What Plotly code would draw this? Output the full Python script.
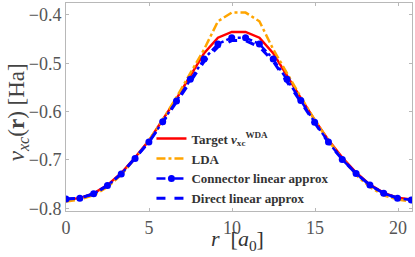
import plotly.graph_objects as go

r_vals = [0, 0.832, 1.664, 2.496, 3.328, 4.16, 4.992, 5.824, 6.656, 7.488, 8.32, 9.152, 9.984,
          10.816, 11.648, 12.48, 13.312, 14.144, 14.976, 15.808, 16.64, 17.472, 18.304, 19.136, 19.968, 20.8]

target = [-0.782, -0.779, -0.769, -0.752, -0.727, -0.695, -0.660, -0.617, -0.573, -0.526, -0.479, -0.447, -0.435,
          -0.435, -0.447, -0.479, -0.526, -0.572, -0.617, -0.659, -0.695, -0.726, -0.751, -0.768, -0.778, -0.782]

lda = [-0.786, -0.782, -0.773, -0.756, -0.731, -0.697, -0.660, -0.617, -0.570, -0.521, -0.471, -0.413, -0.395,
       -0.395, -0.413, -0.471, -0.521, -0.570, -0.617, -0.660, -0.697, -0.731, -0.756, -0.773, -0.782, -0.786]

connector = [-0.781, -0.779, -0.770, -0.753, -0.729, -0.697, -0.663, -0.621, -0.578, -0.533, -0.491, -0.460, -0.447,
             -0.447, -0.460, -0.491, -0.533, -0.577, -0.622, -0.663, -0.699, -0.728, -0.752, -0.769, -0.779, -0.783]

direct = [-0.781, -0.779, -0.770, -0.753, -0.729, -0.697, -0.663, -0.622, -0.580, -0.537, -0.496, -0.466, -0.453,
          -0.453, -0.466, -0.496, -0.537, -0.580, -0.623, -0.664, -0.699, -0.728, -0.752, -0.769, -0.779, -0.783]

x_ticks = [0, 5, 10, 15, 20]
y_ticks = [-0.8, -0.7, -0.6, -0.5, -0.4]
y_tick_labels = ["−0.8", "−0.7", "−0.6", "−0.5", "−0.4"]

SERIF = "Liberation Serif, DejaVu Serif, serif"

fig = go.Figure()
fig.add_trace(go.Scatter(x=r_vals, y=target, mode="lines",
                         name="<b>Target <i>v</i><sub>xc</sub><sup>WDA</sup></b>",
                         line=dict(color="#FF0000", width=2.5)))
fig.add_trace(go.Scatter(x=r_vals, y=lda, mode="lines", name="<b>LDA</b>",
                         line=dict(color="#FFA500", width=2.5, dash="dashdot")))
fig.add_trace(go.Scatter(x=r_vals, y=connector, mode="lines+markers", name="<b>Connector linear approx</b>",
                         line=dict(color="#0000FF", width=2.5, dash="dashdot"),
                         marker=dict(color="#0000FF", size=7, symbol="circle")))
fig.add_trace(go.Scatter(x=r_vals, y=direct, mode="lines", name="<b>Direct linear approx</b>",
                         line=dict(color="#0000FF", width=3, dash="dash")))

axis_common = dict(showgrid=False, zeroline=False, showline=True, linecolor="#b8b8b8", linewidth=1,
                   mirror="ticks", ticks="inside", ticklen=3, tickcolor="#b8b8b8", automargin=False,
                   tickfont=dict(family=SERIF, size=18, color="#555555"))

fig.update_layout(
    width=415, height=257,
    margin=dict(l=66, r=3, t=3, b=46),
    plot_bgcolor="white", paper_bgcolor="white",
    xaxis=dict(range=[0, 20.84], tickvals=x_ticks, ticktext=[str(v) for v in x_ticks], **axis_common),
    yaxis=dict(range=[-0.8056, -0.3752], tickvals=y_ticks, ticktext=y_tick_labels, **axis_common),
    legend=dict(x=0.247, y=0.42, xanchor="left", yanchor="top", bgcolor="rgba(0,0,0,0)",
                font=dict(family=SERIF, size=13, color="#333333"), itemwidth=30),
    showlegend=True,
    annotations=[
        dict(text="<i>r</i>  [<i>a</i><sub>0</sub>]", xref="paper", yref="paper", x=0.495, y=-0.14,
             xanchor="center", yanchor="middle", showarrow=False,
             font=dict(family=SERIF, size=22, color="#333333")),
        dict(text="<i>v</i><sub><i>xc</i></sub>(<b>r</b>) [Ha]", xref="paper", yref="paper", x=-0.138, y=0.476,
             xanchor="center", yanchor="middle", textangle=-90, showarrow=False,
             font=dict(family=SERIF, size=23, color="#444444")),
    ],
)

fig.write_html("out.html", config={"displayModeBar": False},
               post_script="document.body.style.margin='0';document.body.style.overflow='hidden';")
